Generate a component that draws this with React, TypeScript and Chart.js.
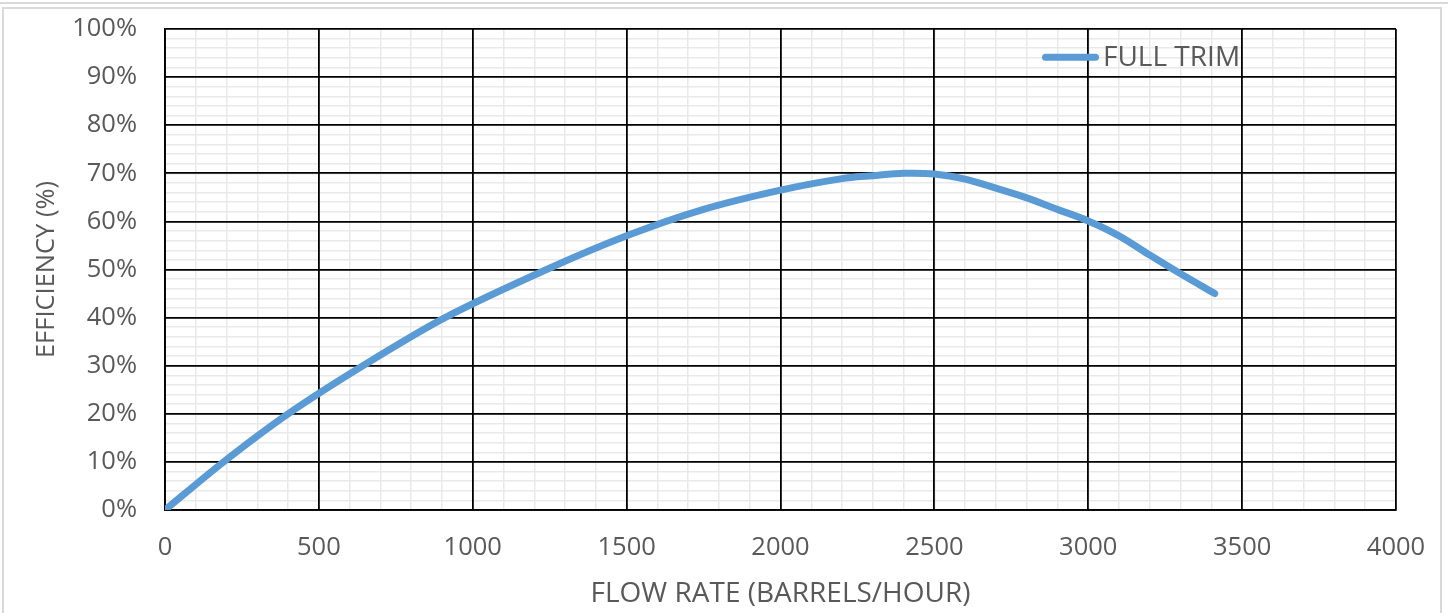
import React, { useEffect, useRef } from 'react';
import { Chart, registerables } from 'chart.js';

Chart.register(...registerables);

// Flow rate (barrels/hour) and efficiency (%)
const flowRate = [0, 190, 400, 643, 910, 1240, 1500, 1750, 2000, 2200, 2300, 2400, 2500, 2600, 2700, 2800, 2900, 3000, 3100, 3200, 3300, 3411];
const efficiency = [0, 10, 20, 30, 40, 50, 57, 62.5, 66.5, 68.9, 69.5, 70.0, 69.85, 68.8, 66.9, 64.9, 62.5, 60.1, 57.0, 53.0, 49.1, 45];
const seriesLabel = 'FULL TRIM';
const xTitle = 'FLOW RATE (BARRELS/HOUR)';
const yTitle = 'EFFICIENCY (%)';

const FONT = "'Open Sans', sans-serif";
const TEXT = '#595959';
const LINE = '#5B9BD5';
const MINOR = '#e9e9e9';

export default function App() {
  const ref = useRef<HTMLCanvasElement>(null);

  useEffect(() => {
    if (!ref.current) return;
    const legendPlugin = {
      id: 'insideLegend',
      afterDraw(chart: any) {
        const { ctx, chartArea } = chart;
        const y = chartArea.top + 28.3;
        const x0 = chartArea.right - 350.5;
        const x1 = chartArea.right - 300.5;
        ctx.save();
        ctx.strokeStyle = LINE;
        ctx.lineWidth = 7;
        ctx.lineCap = 'round';
        ctx.beginPath();
        ctx.moveTo(x0, y);
        ctx.lineTo(x1, y);
        ctx.stroke();
        ctx.fillStyle = TEXT;
        ctx.font = `28px ${FONT}`;
        ctx.textBaseline = 'middle';
        ctx.textAlign = 'left';
        ctx.fillText(chart.data.datasets[0].label, x1 + 7.5, y + 1);
        ctx.restore();
      },
    };

    const minorAxis = (stepSize: number, min: number, max: number, pos: string, horizontal: boolean) => ({
      type: 'linear',
      position: pos,
      min,
      max,
      afterFit: (s: any) => {
        if (horizontal) s.height = 0;
        else s.width = 0;
        s.paddingTop = 0;
        s.paddingBottom = 0;
        s.paddingLeft = 0;
        s.paddingRight = 0;
      },
      ticks: { display: false, stepSize, autoSkip: false },
      grid: { drawTicks: false, color: MINOR, lineWidth: 1.5, z: -2 },
      border: { display: false },
    });

    const chart = new Chart(ref.current, {
      type: 'line',
      data: {
        datasets: [
          {
            label: seriesLabel,
            data: flowRate.map((x, i) => ({ x, y: efficiency[i] })),
            xAxisID: 'x',
            yAxisID: 'y',
            borderColor: LINE,
            backgroundColor: LINE,
            borderWidth: 7,
            pointRadius: 0,
            tension: 0.3,
            borderCapStyle: 'round',
            borderJoinStyle: 'round',
          },
        ],
      },
      options: {
        responsive: false,
        animation: false,
        layout: { padding: { left: 0, top: 29, right: 52, bottom: 0 } },
        plugins: { legend: { display: false }, tooltip: { enabled: false } },
        scales: {
          xMinor: minorAxis(100, 0, 4000, 'bottom', true),
          yMinor: minorAxis(2, 0, 100, 'left', false),
          x: {
            type: 'linear',
            position: 'bottom',
            min: 0,
            max: 4000,
            afterFit: (s: any) => {
              s.height = 103;
              s.paddingLeft = 0;
              s.paddingRight = 0;
            },
            ticks: {
              stepSize: 500,
              autoSkip: false,
              maxRotation: 0,
              padding: 22,
              color: TEXT,
              font: { family: FONT, size: 25.5 },
              callback: (v: any) => String(v),
            },
            grid: { drawTicks: false, color: '#000000', lineWidth: 1.8, z: -1 },
            border: { display: true, color: '#000000', width: 1.8 },
            title: {
              display: true,
              text: xTitle,
              color: TEXT,
              font: { family: FONT, size: 28 },
              padding: { top: 0, bottom: 2 },
            },
          },
          y: {
            type: 'linear',
            position: 'left',
            min: 0,
            max: 100,
            afterFit: (s: any) => {
              s.width = 165;
              s.paddingTop = 0;
              s.paddingBottom = 0;
            },
            ticks: {
              stepSize: 10,
              autoSkip: false,
              padding: 28,
              color: TEXT,
              font: { family: FONT, size: 25.5 },
              callback: (v: any) => `${v}%`,
            },
            grid: { drawTicks: false, color: '#000000', lineWidth: 1.8, z: -1 },
            border: { display: true, color: '#000000', width: 1.8 },
            title: {
              display: true,
              text: yTitle,
              color: TEXT,
              font: { family: FONT, size: 25.5 },
              padding: { top: 31, bottom: 0 },
            },
          },
        },
      },
      plugins: [legendPlugin],
    } as any);
    return () => chart.destroy();
  }, []);

  return (
    <div style={{ position: 'fixed', left: 0, top: 0, width: 1448, height: 613, background: '#fff', overflow: 'hidden' }}>
      <div style={{ position: 'absolute', left: 0, top: 2, width: 1448, height: 2, background: '#d9d9d9' }} />
      <div
        style={{
          position: 'absolute',
          left: 2,
          top: 7,
          width: 1440,
          height: 620,
          border: '2px solid #d9d9d9',
          boxSizing: 'border-box',
        }}
      />
      <canvas ref={ref} width={1448} height={613} style={{ position: 'absolute', left: 0, top: 0 }} />
    </div>
  );
}
